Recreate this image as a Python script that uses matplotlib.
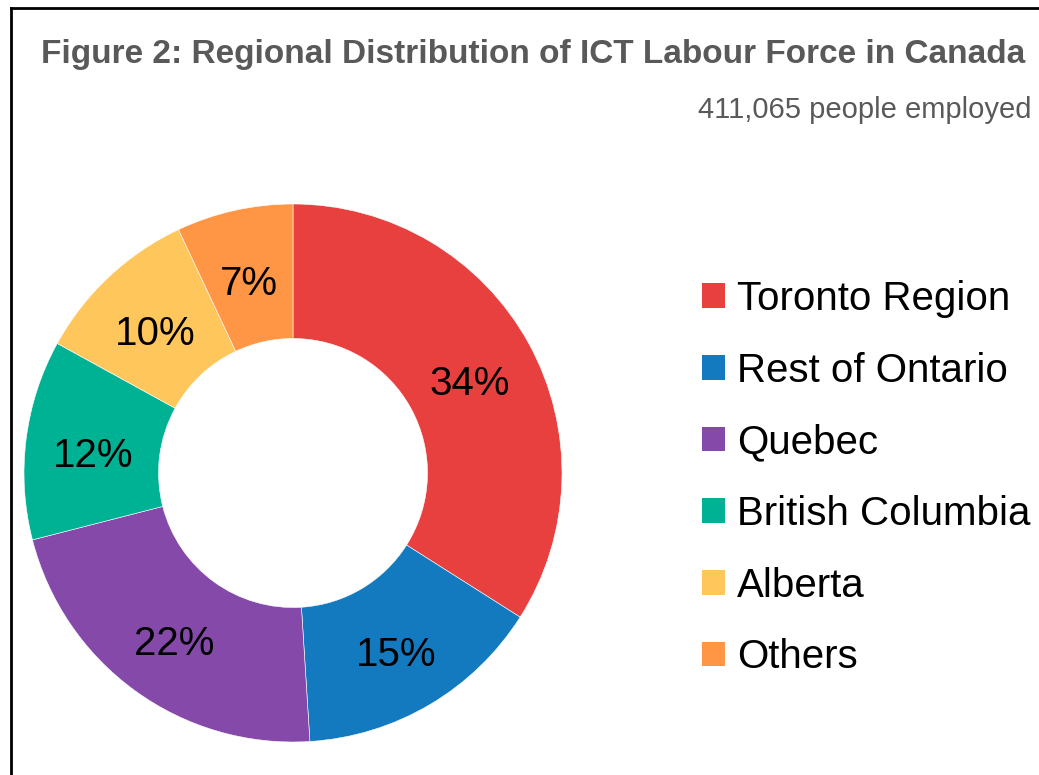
"""Regional distribution of ICT labour force - donut chart"""
import matplotlib.pyplot as plt
from matplotlib.lines import Line2D
from matplotlib.patches import Patch

plt.rcParams["font.family"] = ["Liberation Sans", "DejaVu Sans"]

# data
regions = ["Toronto Region", "Rest of Ontario", "Quebec",
           "British Columbia", "Alberta", "Others"]
shares = [34, 15, 22, 12, 10, 7]
colors = ["#E8403F", "#137ABF", "#8549AA", "#00B294", "#FFC65C", "#FF9645"]
title = "Figure 2: Regional Distribution of ICT Labour Force in Canada"
subtitle = "411,065 people employed"

W, H = 1039, 775
fig = plt.figure(figsize=(W / 100, H / 100), dpi=100)

# donut: center (293, 473) px, radius 269 px
cx, cy, r = 293, 473, 269
ax = fig.add_axes([(cx - r) / W, (H - cy - r) / H, 2 * r / W, 2 * r / H])
wedges, texts, autotexts = ax.pie(
    shares, colors=colors, startangle=90, counterclock=False,
    radius=1.0, autopct="%d%%", pctdistance=0.75,
    wedgeprops=dict(width=0.5, edgecolor="white", linewidth=0.4),
    textprops=dict(fontsize=29, color="black"),
)
# labels sit a little lower in the original
for t in autotexts:
    t.set_y(t.get_position()[1] - 0.03)
ax.set_xlim(-1, 1)
ax.set_ylim(-1, 1)
ax.set_aspect("equal")
ax.axis("off")

# titles
fig.text(41 / W, 1 - 54 / H, title, fontsize=24, fontweight="bold",
         color="#595959", ha="left", va="center")
fig.text(1031 / W, 1 - 110 / H, subtitle, fontsize=21,
         color="#595959", ha="right", va="center")

# legend
handles = [Patch(facecolor=c, edgecolor="none") for c in colors]
fig.legend(handles, regions, loc="upper left",
           bbox_to_anchor=(702 / W, 1 - 280 / H), frameon=False,
           fontsize=29, handlelength=0.57, handleheight=0.57,
           handletextpad=0.3, labelspacing=0.835, borderaxespad=0,
           borderpad=0)

# frame lines (top and left)
fig.add_artist(Line2D([11 / W, 1], [1 - 8 / H, 1 - 8 / H], color="black",
                      linewidth=2, transform=fig.transFigure))
fig.add_artist(Line2D([11 / W, 11 / W], [0, 1 - 8 / H], color="black",
                      linewidth=2, transform=fig.transFigure))

fig.savefig("out.png", dpi=100)
